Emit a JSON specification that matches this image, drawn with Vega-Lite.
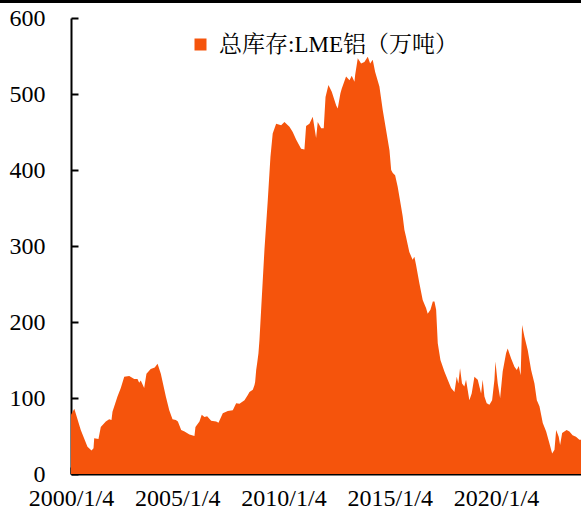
{
  "$schema": "https://vega.github.io/schema/vega-lite/v6.json",
  "width": 510,
  "height": 456,
  "autosize": {"type": "none"},
  "padding": {"left": 71, "top": 18, "right": 0, "bottom": 44},
  "background": "white",
  "config": {
    "view": {"stroke": null},
    "font": "Liberation Serif"
  },
  "data": {
    "format": {"parse": {"date": "date:'%Y-%m-%d'"}},
    "values": [
      {"date": "2000-01-04", "value": 78},
      {"date": "2000-03-01", "value": 86},
      {"date": "2000-06-20", "value": 58},
      {"date": "2000-10-13", "value": 36},
      {"date": "2000-12-22", "value": 31},
      {"date": "2001-01-25", "value": 34},
      {"date": "2001-02-06", "value": 47},
      {"date": "2001-04-20", "value": 46},
      {"date": "2001-05-30", "value": 62},
      {"date": "2001-08-24", "value": 69},
      {"date": "2001-10-21", "value": 72},
      {"date": "2001-11-30", "value": 71},
      {"date": "2001-12-17", "value": 82},
      {"date": "2002-03-13", "value": 102},
      {"date": "2002-05-09", "value": 113},
      {"date": "2002-07-07", "value": 128},
      {"date": "2002-10-01", "value": 129},
      {"date": "2002-12-26", "value": 125},
      {"date": "2003-02-20", "value": 125},
      {"date": "2003-03-21", "value": 120},
      {"date": "2003-04-17", "value": 123},
      {"date": "2003-06-15", "value": 113},
      {"date": "2003-07-24", "value": 132},
      {"date": "2003-10-05", "value": 138},
      {"date": "2003-12-13", "value": 140},
      {"date": "2004-01-31", "value": 145},
      {"date": "2004-03-27", "value": 132},
      {"date": "2004-06-21", "value": 102},
      {"date": "2004-08-19", "value": 84},
      {"date": "2004-10-14", "value": 72},
      {"date": "2004-12-10", "value": 71},
      {"date": "2005-01-14", "value": 69},
      {"date": "2005-03-12", "value": 58},
      {"date": "2005-05-08", "value": 56},
      {"date": "2005-08-01", "value": 52},
      {"date": "2005-10-26", "value": 50},
      {"date": "2005-11-12", "value": 62},
      {"date": "2006-01-20", "value": 69},
      {"date": "2006-02-28", "value": 78},
      {"date": "2006-04-16", "value": 75},
      {"date": "2006-06-01", "value": 76},
      {"date": "2006-08-09", "value": 70},
      {"date": "2006-11-03", "value": 69},
      {"date": "2006-12-13", "value": 67.5},
      {"date": "2007-02-25", "value": 80},
      {"date": "2007-05-22", "value": 83},
      {"date": "2007-08-16", "value": 84},
      {"date": "2007-10-13", "value": 93},
      {"date": "2007-12-09", "value": 92.5},
      {"date": "2008-03-04", "value": 97},
      {"date": "2008-04-30", "value": 104},
      {"date": "2008-05-29", "value": 108},
      {"date": "2008-07-25", "value": 111},
      {"date": "2008-08-23", "value": 117},
      {"date": "2008-09-03", "value": 121},
      {"date": "2008-09-21", "value": 137},
      {"date": "2008-10-08", "value": 146},
      {"date": "2008-10-30", "value": 159},
      {"date": "2008-11-16", "value": 176},
      {"date": "2008-12-15", "value": 216},
      {"date": "2009-02-10", "value": 295},
      {"date": "2009-04-08", "value": 360},
      {"date": "2009-05-24", "value": 417},
      {"date": "2009-07-02", "value": 448},
      {"date": "2009-08-30", "value": 461},
      {"date": "2009-11-24", "value": 459},
      {"date": "2010-01-20", "value": 463},
      {"date": "2010-04-16", "value": 457},
      {"date": "2010-06-11", "value": 450},
      {"date": "2010-08-08", "value": 440},
      {"date": "2010-11-02", "value": 428},
      {"date": "2010-12-29", "value": 427},
      {"date": "2011-01-27", "value": 458},
      {"date": "2011-03-25", "value": 461},
      {"date": "2011-05-21", "value": 470},
      {"date": "2011-07-18", "value": 442},
      {"date": "2011-08-15", "value": 463},
      {"date": "2011-10-13", "value": 455},
      {"date": "2011-11-26", "value": 455},
      {"date": "2011-12-27", "value": 496},
      {"date": "2012-02-15", "value": 512},
      {"date": "2012-04-12", "value": 503},
      {"date": "2012-06-27", "value": 485},
      {"date": "2012-07-24", "value": 481},
      {"date": "2012-09-08", "value": 501},
      {"date": "2012-09-30", "value": 507},
      {"date": "2012-12-14", "value": 523},
      {"date": "2013-02-11", "value": 518},
      {"date": "2013-03-21", "value": 524},
      {"date": "2013-05-07", "value": 516},
      {"date": "2013-05-19", "value": 525},
      {"date": "2013-07-03", "value": 547},
      {"date": "2013-08-29", "value": 540},
      {"date": "2013-10-25", "value": 542},
      {"date": "2013-12-22", "value": 549},
      {"date": "2014-02-01", "value": 540},
      {"date": "2014-03-17", "value": 545},
      {"date": "2014-04-28", "value": 529},
      {"date": "2014-07-10", "value": 510},
      {"date": "2014-09-05", "value": 479},
      {"date": "2014-11-01", "value": 453},
      {"date": "2014-12-30", "value": 426},
      {"date": "2015-01-28", "value": 400},
      {"date": "2015-02-25", "value": 396},
      {"date": "2015-04-06", "value": 393},
      {"date": "2015-05-20", "value": 378},
      {"date": "2015-07-17", "value": 352},
      {"date": "2015-08-14", "value": 339},
      {"date": "2015-09-13", "value": 321},
      {"date": "2015-10-11", "value": 312},
      {"date": "2015-12-06", "value": 292},
      {"date": "2016-02-01", "value": 282},
      {"date": "2016-03-02", "value": 286},
      {"date": "2016-03-31", "value": 275},
      {"date": "2016-05-27", "value": 251},
      {"date": "2016-07-23", "value": 229},
      {"date": "2016-09-20", "value": 218},
      {"date": "2016-10-17", "value": 211},
      {"date": "2016-12-03", "value": 216},
      {"date": "2017-01-13", "value": 227},
      {"date": "2017-02-10", "value": 227},
      {"date": "2017-03-11", "value": 216},
      {"date": "2017-04-08", "value": 172},
      {"date": "2017-05-24", "value": 150},
      {"date": "2017-07-31", "value": 135},
      {"date": "2017-09-26", "value": 124},
      {"date": "2017-11-23", "value": 113},
      {"date": "2018-01-20", "value": 108},
      {"date": "2018-02-28", "value": 128},
      {"date": "2018-03-28", "value": 119},
      {"date": "2018-04-26", "value": 139},
      {"date": "2018-05-30", "value": 119},
      {"date": "2018-07-09", "value": 115},
      {"date": "2018-08-07", "value": 124},
      {"date": "2018-10-03", "value": 97},
      {"date": "2018-11-12", "value": 106},
      {"date": "2018-12-29", "value": 128},
      {"date": "2019-02-24", "value": 124},
      {"date": "2019-04-23", "value": 106},
      {"date": "2019-05-20", "value": 124},
      {"date": "2019-06-19", "value": 102},
      {"date": "2019-07-28", "value": 93},
      {"date": "2019-09-13", "value": 91},
      {"date": "2019-10-29", "value": 97},
      {"date": "2019-12-08", "value": 124},
      {"date": "2019-12-25", "value": 148},
      {"date": "2020-02-03", "value": 119},
      {"date": "2020-03-15", "value": 100},
      {"date": "2020-04-28", "value": 135},
      {"date": "2020-06-25", "value": 159},
      {"date": "2020-07-23", "value": 165},
      {"date": "2020-09-20", "value": 152},
      {"date": "2020-11-16", "value": 141},
      {"date": "2020-12-26", "value": 137},
      {"date": "2021-01-29", "value": 142},
      {"date": "2021-03-03", "value": 130},
      {"date": "2021-03-27", "value": 196},
      {"date": "2021-05-06", "value": 181},
      {"date": "2021-07-02", "value": 163},
      {"date": "2021-08-30", "value": 137},
      {"date": "2021-10-26", "value": 119},
      {"date": "2021-12-06", "value": 97},
      {"date": "2022-01-20", "value": 89},
      {"date": "2022-03-18", "value": 67},
      {"date": "2022-05-15", "value": 56},
      {"date": "2022-07-11", "value": 40},
      {"date": "2022-08-26", "value": 27},
      {"date": "2022-10-05", "value": 32},
      {"date": "2022-11-03", "value": 58},
      {"date": "2022-12-17", "value": 49},
      {"date": "2023-01-10", "value": 38},
      {"date": "2023-02-14", "value": 54},
      {"date": "2023-03-24", "value": 56},
      {"date": "2023-05-02", "value": 58},
      {"date": "2023-06-19", "value": 56},
      {"date": "2023-08-12", "value": 51},
      {"date": "2023-10-10", "value": 49},
      {"date": "2023-12-07", "value": 45},
      {"date": "2024-01-04", "value": 45}
    ]
  },
  "layer": [
    {
      "mark": {"type": "area", "interpolate": "linear"},
      "encoding": {
        "x": {
          "field": "date",
          "type": "temporal",
          "scale": {"domain": [{"year": 2000, "month": 1, "date": 4}, {"year": 2024, "month": 1, "date": 4}]},
          "axis": {
            "title": null,
            "values": [
              {"year": 2000, "month": 1, "date": 4},
              {"year": 2005, "month": 1, "date": 4},
              {"year": 2010, "month": 1, "date": 4},
              {"year": 2015, "month": 1, "date": 4},
              {"year": 2020, "month": 1, "date": 4}
            ],
            "labelExpr": "timeFormat(datum.value, '%Y/%-m/%-d')",
            "grid": false,
            "domainColor": "black",
            "domainWidth": 2,
            "tickColor": "black",
            "tickWidth": 2,
            "tickSize": -7,
            "labelPadding": 19,
            "labelFont": "Liberation Serif",
            "labelFontSize": 24,
            "labelColor": "black",
            "labelFlush": false,
            "labelOverlap": false
          }
        },
        "y": {
          "field": "value",
          "type": "quantitative",
          "scale": {"domain": [0, 600], "nice": false},
          "axis": {
            "title": null,
            "values": [0, 100, 200, 300, 400, 500, 600],
            "grid": false,
            "domainColor": "black",
            "domainWidth": 2,
            "tickColor": "black",
            "tickWidth": 2,
            "tickSize": -7,
            "labelPadding": 33,
            "labelFont": "Liberation Serif",
            "labelFontSize": 24,
            "labelColor": "black",
            "labelFlush": false,
            "labelOverlap": false
          }
        },
        "color": {
          "datum": "总库存:LME铝（万吨）",
          "scale": {"range": ["#F5540C"]},
          "legend": {
            "title": null,
            "orient": "none",
            "legendX": 118,
            "legendY": 15,
            "padding": 0,
            "symbolType": "square",
            "symbolSize": 144,
            "symbolStrokeWidth": 0,
            "symbolOpacity": 1,
            "labelFont": "Liberation Serif, Noto Serif CJK SC, Noto Sans CJK SC",
            "labelFontSize": 23,
            "labelColor": "black",
            "labelOffset": 7,
            "labelLimit": 400
          }
        }
      }
    },
    {
      "mark": {"type": "rule", "color": "black", "strokeWidth": 3, "clip": false},
      "encoding": {
        "y": {"datum": 622},
        "x": {"datum": {"year": 1996, "month": 6, "date": 1}},
        "x2": {"datum": {"year": 2024, "month": 6, "date": 1}}
      }
    }
  ]
}
